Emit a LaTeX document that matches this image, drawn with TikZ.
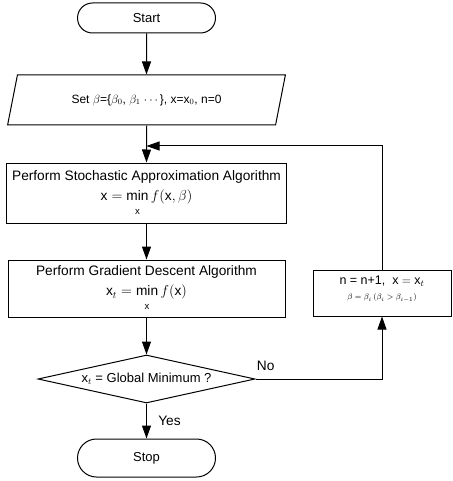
\documentclass[tikz,border=0pt]{standalone}
\usepackage{amsmath}
\usepackage{fontspec}
\setmainfont{Liberation Sans}
\usetikzlibrary{shapes.geometric,shapes.misc,arrows.meta}
\tikzset{
	terminal/.style={draw, line width=1pt, rounded rectangle, minimum width=138pt, minimum height=30pt, inner sep=0pt},
	io/.style={draw, line width=1pt, trapezium, trapezium left angle=63, trapezium right angle=117, trapezium stretches=true, minimum width=278pt, minimum height=50pt, inner sep=0pt},
	process/.style={draw, line width=1pt, rectangle, inner sep=0pt, align=center},
	decision/.style={draw, line width=1pt, diamond, aspect=4.5, minimum width=217pt, minimum height=48pt, inner sep=0pt},
	flowline/.style={line width=1pt, -{Triangle[length=13pt,width=9pt]}}
}
\newcommand{\minx}{\min\limits_{\raisebox{-5pt}{$\scriptstyle\mathrm{x}$}}}

\begin{document}
\begin{tikzpicture}[x=1pt, y=-1pt, font=\fontsize{13.7}{15}\selectfont]
	\useasboundingbox (0,0) rectangle (452,481);
	% main column
	\node[terminal, font=\fontsize{13}{15}\selectfont] (start) at (146.5,18) {Start};
	\node[io, font=\fontsize{12}{14}\selectfont] (init) at (146.5,100) {Set $\beta$=\{$\beta_0$, $\beta_1$ $\cdots$\}, x=x$_0$, n=0};
	\node[process, minimum width=280pt, minimum height=60pt] (sa) at (146.5,193) {Perform Stochastic Approximation Algorithm\\[5pt] $\mathrm{x} = \minx f(\mathrm{x},\beta)$};
	\node[process, minimum width=277pt, minimum height=57pt] (gd) at (146.5,288.5) {Perform Gradient Descent Algorithm\\[5pt] $\mathrm{x}_t = \minx f(\mathrm{x})$};
	\node[decision, font=\fontsize{13}{15}\selectfont] (test) at (146.5,379) {$\mathrm{x}_t$ = Global Minimum ?};
	\node[terminal, minimum height=38pt, font=\fontsize{13}{15}\selectfont] (stop) at (146.5,458) {Stop};
	% loop back
	\node[process, minimum width=138pt, minimum height=46pt, font=\fontsize{12.5}{16}\selectfont] (upd) at (382,293) {n = n+1, \ $\mathrm{x} = \mathrm{x}_t$\\[-1pt] {\footnotesize$\beta=\beta_i\,(\beta_i>\beta_{i-1})$}\\[-6pt]};
	\coordinate (join) at (146.5,146);

	\draw[flowline] (start) -- (init);
	\draw[flowline] (init) -- (sa);
	\draw[flowline] (sa) -- (gd);
	\draw[flowline] (gd) -- (test);
	\draw[flowline] (test) -- node[right, xshift=8pt]{Yes} (stop);
	\draw[flowline] (test.east) -| node[pos=0.04, above, yshift=5pt]{No} (upd.south);
	\draw[flowline] (upd.north) |- (join);
\end{tikzpicture}
\end{document}
